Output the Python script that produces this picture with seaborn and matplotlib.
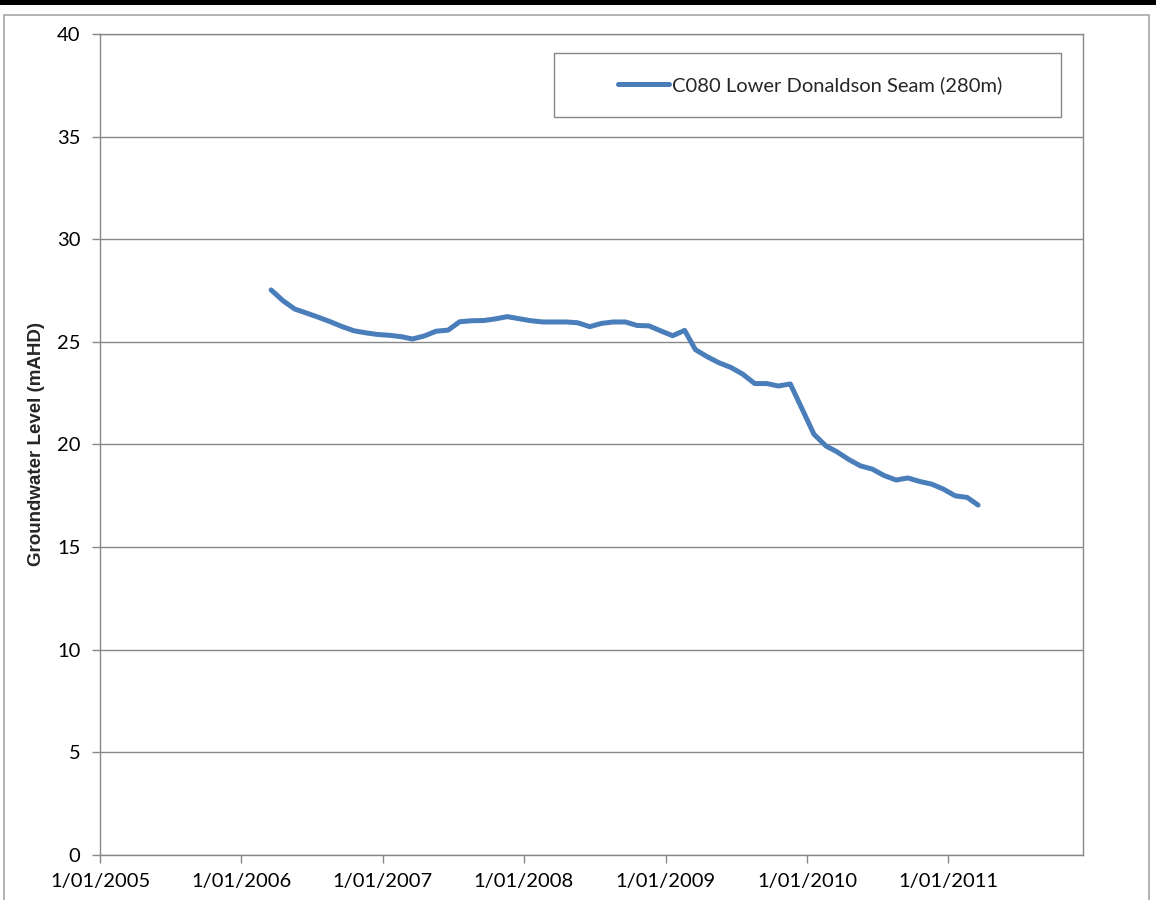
import numpy as np
import pandas as pd
import matplotlib
matplotlib.use("Agg")
import matplotlib.pyplot as plt
import matplotlib.ticker as mticker
import matplotlib.dates as mdates
from matplotlib.patches import Rectangle
import seaborn as sns


# monthly readings, Mar 2006 - Mar 2011
months = [
    "2006-03", "2006-04", "2006-05", "2006-06", "2006-07", "2006-08", "2006-09", "2006-10", "2006-11", "2006-12",
    "2007-01", "2007-02", "2007-03", "2007-04", "2007-05", "2007-06", "2007-07", "2007-08", "2007-09", "2007-10", "2007-11", "2007-12",
    "2008-01", "2008-02", "2008-03", "2008-04", "2008-05", "2008-06", "2008-07", "2008-08", "2008-09", "2008-10", "2008-11", "2008-12",
    "2009-01", "2009-02", "2009-03", "2009-04", "2009-05", "2009-06", "2009-07", "2009-08", "2009-09", "2009-10", "2009-11", "2009-12",
    "2010-01", "2010-02", "2010-03", "2010-04", "2010-05", "2010-06", "2010-07", "2010-08", "2010-09", "2010-10", "2010-11", "2010-12",
    "2011-01", "2011-02", "2011-03",
]
level = [
    27.53, 27.00, 26.60, 26.40, 26.20, 25.98, 25.74, 25.54, 25.44, 25.36,
    25.32, 25.25, 25.14, 25.29, 25.52, 25.57, 25.98, 26.03, 26.04, 26.12, 26.23, 26.13,
    26.03, 25.97, 25.97, 25.97, 25.93, 25.74, 25.90, 25.97, 25.97, 25.80, 25.78, 25.54,
    25.30, 25.56, 24.62, 24.27, 23.98, 23.75, 23.43, 22.97, 22.97, 22.85, 22.95, 21.75,
    20.50, 19.93, 19.65, 19.27, 18.96, 18.80, 18.49, 18.27, 18.37, 18.20, 18.07, 17.83,
    17.50, 17.42, 17.05,
]
series_name = "C080 Lower Donaldson Seam (280m)"
year_ticks = ["2005-01-01", "2006-01-01", "2007-01-01", "2008-01-01",
              "2009-01-01", "2010-01-01", "2011-01-01"]

df = pd.DataFrame({"date": pd.to_datetime([m + "-19" for m in months]), "level": level})

sns.set_style("white")
plt.rcParams["font.family"] = ["Lato", "DejaVu Sans"]

grey = "#878787"
blue = "#4a7ebb"

fig = plt.figure(figsize=(11.56, 9), dpi=100)
ax = fig.add_axes([100 / 1156, 45 / 900, 983 / 1156, 821 / 900])

sns.lineplot(data=df, x="date", y="level", ax=ax, color=blue, linewidth=3.6,
             label=series_name, legend=False)
for l in ax.lines:
    l.set_solid_capstyle("round")
    l.set_solid_joinstyle("round")

ax.set_ylim(0, 40)
ax.set_yticks(np.arange(0, 41, 5))
ax.set_xlim(pd.Timestamp("2005-01-01"), pd.Timestamp("2011-12-15"))
ax.set_xticks(pd.to_datetime(year_ticks))
ax.xaxis.set_major_formatter(mticker.FuncFormatter(
    lambda v, p: "{}/{:02d}/{}".format(mdates.num2date(v).day, mdates.num2date(v).month, mdates.num2date(v).year)))

ax.yaxis.grid(True, color=grey, linewidth=1.0)
ax.xaxis.grid(False)
for s in ["left", "bottom", "right", "top"]:
    ax.spines[s].set_color(grey)
    ax.spines[s].set_linewidth(1.0)
ax.tick_params(axis="both", which="major", direction="out", length=6, width=1,
               color=grey, labelsize=14.5, labelcolor="black")
ax.tick_params(axis="y", pad=8)
ax.tick_params(axis="x", pad=7)
ax.tick_params(left=True, bottom=True)

ax.set_xlabel("")
ax.set_ylabel("Groundwater Level (mAHD)", fontsize=13.5, fontweight="bold",
              family=["Liberation Sans", "DejaVu Sans"])
ax.yaxis.set_label_coords(-55 / 983, 0.5)

# legend box
ax.add_patch(Rectangle((454 / 983, (855 - 117) / 821), 507 / 983, 64 / 821,
                       transform=ax.transAxes, fill=False, edgecolor=grey,
                       linewidth=1.0, zorder=5))
leg = ax.legend(loc="center", bbox_to_anchor=(710 / 983, (855 - 85) / 821),
                frameon=False, fontsize=14.5, handlelength=2.5, handletextpad=0.15)

# chart area border and black rule at the top of the page
fig.add_artist(Rectangle((4 / 1156, -0.05), 1145 / 1156, 1 - 15 / 900 + 0.05,
                         transform=fig.transFigure, fill=False,
                         edgecolor="#a6a6a6", linewidth=1.2))
fig.add_artist(Rectangle((0, 1 - 5 / 900), 1, 5 / 900, transform=fig.transFigure,
                         facecolor="black", edgecolor="none"))

fig.savefig("out.png", dpi=100)
